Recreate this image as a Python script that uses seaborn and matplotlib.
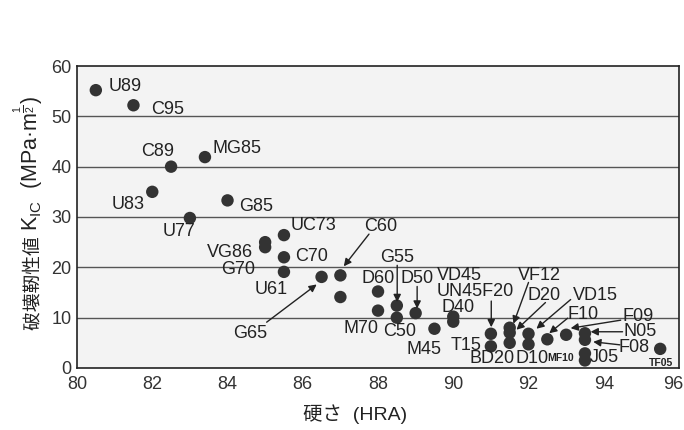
import matplotlib
matplotlib.use("Agg")
import matplotlib.pyplot as plt
from matplotlib.transforms import ScaledTranslation
import seaborn as sns
import pandas as pd

# Hardness (HRA) and fracture toughness K_IC (MPa·m^1/2) for each grade
hardness = [80.5, 81.5, 82.5, 83.4, 82.0, 84.0, 83.0, 85.0, 85.0, 85.5,
            85.5, 85.5, 86.5, 87.0, 87.0, 88.0, 88.0, 88.5, 88.5, 89.0,
            89.5, 90.0, 90.0, 91.0, 91.0, 91.5, 91.5, 91.5, 92.0, 92.0,
            92.5, 93.0, 93.5, 93.5, 93.5, 93.5, 95.5]
toughness = [55.2, 52.2, 40.0, 41.9, 35.0, 33.3, 29.8, 25.0, 24.0, 26.4,
             22.0, 19.1, 18.1, 18.4, 14.1, 15.2, 11.4, 12.4, 10.0, 10.9,
             7.8, 10.2, 9.2, 6.8, 4.3, 8.0, 7.0, 5.0, 6.8, 4.7,
             5.7, 6.6, 6.9, 5.6, 2.9, 1.5, 3.8]

x_ticks = [80, 82, 84, 86, 88, 90, 92, 94, 96]
y_ticks = [0, 10, 20, 30, 40, 50, 60]

# Grade names: (text, x, y) of the left end of each label
grade_labels = [
    ("U89", 80.85, 56.0), ("C95", 81.97, 51.4), ("C89", 81.7, 43.1),
    ("MG85", 83.6, 43.6), ("U83", 80.93, 32.4), ("G85", 84.3, 32.1),
    ("U77", 82.27, 27.2), ("UC73", 85.68, 28.3), ("VG86", 83.44, 22.9),
    ("C70", 85.8, 22.2), ("G70", 83.84, 19.5), ("U61", 84.72, 15.5),
    ("C60", 87.63, 28.1), ("G65", 84.16, 6.9), ("G55", 88.05, 22.0),
    ("D60", 87.55, 17.8), ("D50", 88.59, 17.8), ("VD45", 89.57, 18.3),
    ("UN45F20", 89.57, 15.2), ("D40", 89.7, 12.0), ("M70", 87.07, 7.8),
    ("C50", 88.13, 7.2), ("M45", 88.75, 3.6), ("T15", 89.92, 4.5),
    ("BD20", 90.43, 1.9), ("D10", 91.65, 1.9), ("J05", 93.62, 2.0),
    ("VF12", 91.73, 18.4), ("D20", 91.97, 14.4), ("VD15", 93.17, 14.4),
    ("F10", 93.04, 10.7), ("F09", 94.5, 10.3), ("N05", 94.52, 7.2),
    ("F08", 94.4, 4.0),
]
small_labels = [("MF10", 92.5, 2.0), ("TF05", 95.2, 0.9)]

# Leader arrows from a label to its point: (start, end)
leader_arrows = [
    ((87.76, 26.6), (87.09, 20.2)),   # C60
    ((85.04, 9.1), (86.37, 16.6)),    # G65
    ((88.51, 20.4), (88.51, 13.1)),   # G55
    ((89.04, 16.2), (89.04, 11.8)),   # D50
    ((91.01, 13.3), (91.01, 8.1)),    # F20
    ((92.0, 17.0), (91.6, 8.8)),      # VF12
    ((92.45, 13.0), (91.68, 7.6)),    # D20
    ((93.12, 13.6), (92.21, 7.8)),    # VD15
    ((93.04, 9.9), (92.55, 6.9)),     # F10
    ((94.45, 9.5), (93.12, 7.9)),     # F09
    ((94.5, 7.2), (93.65, 7.2)),      # N05
    ((94.43, 4.6), (93.72, 5.2)),     # F08
]

df = pd.DataFrame({"hardness": hardness, "toughness": toughness})

sns.set_style("white")
plt.rcParams["font.family"] = ["Liberation Sans", "Noto Sans CJK JP", "DejaVu Sans"]
plt.rcParams["mathtext.fontset"] = "custom"
plt.rcParams["mathtext.rm"] = "Liberation Sans"
plt.rcParams["mathtext.it"] = "Liberation Sans"
plt.rcParams["mathtext.default"] = "regular"

fig = plt.figure(figsize=(6.84, 4.30), dpi=100)
ax = fig.add_axes([0.1126, 0.1442, 0.8801, 0.7023])
ax.set_facecolor("#f3f3f3")

for yv in y_ticks[1:-1]:
    ax.axhline(yv, color="#555555", lw=1.0, zorder=1)

sns.scatterplot(data=df, x="hardness", y="toughness", ax=ax, s=80,
                color="#333333", edgecolor="none", zorder=3, legend=False)

txt_color = "#222222"
for name, tx, ty in grade_labels:
    ax.text(tx, ty, name, fontsize=13, ha="left", va="center", color=txt_color)
for name, tx, ty in small_labels:
    ax.text(tx, ty, name, fontsize=7.5, fontweight="bold", ha="left", va="center",
            color=txt_color)
for start, end in leader_arrows:
    ax.annotate("", xy=end, xytext=start,
                arrowprops=dict(arrowstyle="-|>", color="#222222", lw=1.0,
                                mutation_scale=11, shrinkA=0, shrinkB=0))

ax.set_xlim(80, 96)
ax.set_ylim(0, 60)
ax.set_xticks(x_ticks)
ax.set_yticks(y_ticks)
ax.tick_params(axis="x", direction="in", length=8, width=1, color="#333333",
               labelsize=13, pad=6)
ax.tick_params(axis="y", length=0, labelsize=13, pad=4)
for lbl in ax.get_xticklabels() + ax.get_yticklabels():
    lbl.set_color("#333333")
# keep the last x tick label inside the figure edge
last = ax.get_xticklabels()[-1]
last.set_transform(last.get_transform() + ScaledTranslation(-4 / 72, 0, fig.dpi_scale_trans))
for sp in ax.spines.values():
    sp.set_color("#222222")
    sp.set_linewidth(1.2)

ax.set_xlabel("硬さ  (HRA)", fontsize=14, color="#222222")
ax.xaxis.set_label_coords(0.462, -0.12)
ax.set_ylabel("")

# Vertical axis title: kanji part and the K_IC / unit part share one baseline
ylab_x, ylab_y = 0.0556, 0.462
fig.text(ylab_x, ylab_y, "破壊靭性値 ", fontsize=13.5, rotation=90,
         rotation_mode="anchor", ha="right", va="baseline", color="#222222")
fig.text(ylab_x, ylab_y, r"K$_{IC}$  (MPa·m$^{\frac{1}{2}}$)", fontsize=15.5,
         rotation=90, rotation_mode="anchor", ha="left", va="baseline",
         color="#222222")

fig.savefig("out.png", dpi=100, facecolor="white")
